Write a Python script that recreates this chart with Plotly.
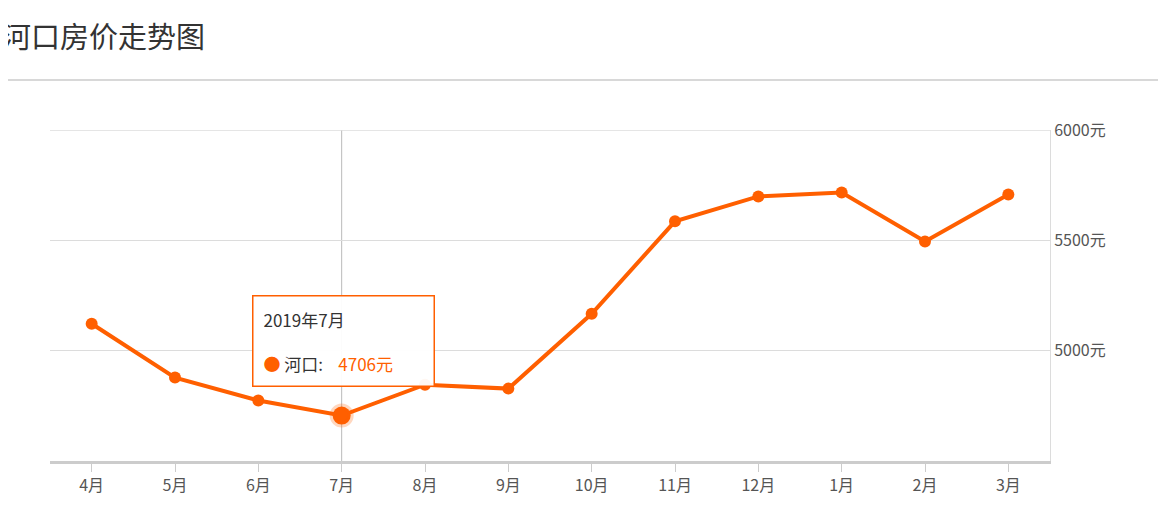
import plotly.graph_objects as go

months = ["4月", "5月", "6月", "7月", "8月", "9月", "10月", "11月", "12月", "1月", "2月", "3月"]
prices = [5122, 4878, 4774, 4706, 4846, 4828, 5167, 5586, 5699, 5717, 5495, 5708]
tick_vals = [5000, 5500, 6000]
tick_text = ["5000元", "5500元", "6000元"]
hi = 3  # highlighted month (7月)

orange = "#ff5f00"
fig = go.Figure()
fig.add_trace(go.Scatter(
    x=months, y=prices, mode="lines+markers",
    line=dict(color=orange, width=4),
    marker=dict(color=orange, size=12),
    hoverinfo="skip",
))
fig.add_trace(go.Scatter(
    x=[months[hi]], y=[prices[hi]], mode="markers",
    marker=dict(color=orange, size=18, line=dict(color="rgba(255,95,0,0.25)", width=6)),
    hoverinfo="skip",
))

fig.update_layout(
    width=1166, height=529,
    margin=dict(l=42, r=124, t=122, b=76),
    plot_bgcolor="white", paper_bgcolor="white",
    showlegend=False,
    font=dict(family="Noto Sans CJK SC", color="#555"),
    xaxis=dict(
        range=[-0.5, 11.5], showgrid=False, showline=True, linecolor="#ccc", linewidth=3,
        ticks="outside", tickcolor="#ccc", ticklen=8, tickfont=dict(size=16),
    ),
    yaxis=dict(
        range=[4500, 6000], side="right", tickvals=tick_vals, ticktext=tick_text,
        showgrid=True, gridcolor="#dcdcdc", gridwidth=1, zeroline=False,
        tickfont=dict(size=16), ticks="", showline=True, linecolor="#dcdcdc",
    ),
    shapes=[
        dict(type="rect", xref="paper", yref="paper", x0=-0.049, x1=1.116, y0=-0.3, y1=1.151,
             line=dict(color="#ccc", width=1.5)),
        dict(type="line", xref="x", yref="paper", x0=months[hi], x1=months[hi], y0=0, y1=1,
             line=dict(color="#bbb", width=1), layer="below"),
        dict(type="line", xref="paper", yref="y", x0=0, x1=1, y0=6000, y1=6000,
             line=dict(color="#dcdcdc", width=1.5), layer="below"),
    ],
    annotations=[
        dict(text="河口房价走势图", xref="paper", yref="paper", x=-0.05, y=1.287,
             xanchor="left", yanchor="middle", showarrow=False,
             font=dict(size=29, color="#333")),
        dict(text="2019年7月<br><br><span style='color:#ff5f00'>●</span> 河口:    "
                  "<span style='color:#ff5f00'>4706元</span>",
             x=months[hi], y=prices[hi], xref="x", yref="y", showarrow=False,
             yshift=75, xshift=2, align="left", width=160,
             bgcolor="rgba(255,255,255,0.95)",
             bordercolor=orange, borderwidth=1.5, borderpad=10,
             font=dict(size=17, color="#333")),
    ],
)
fig.write_html("out.html")
